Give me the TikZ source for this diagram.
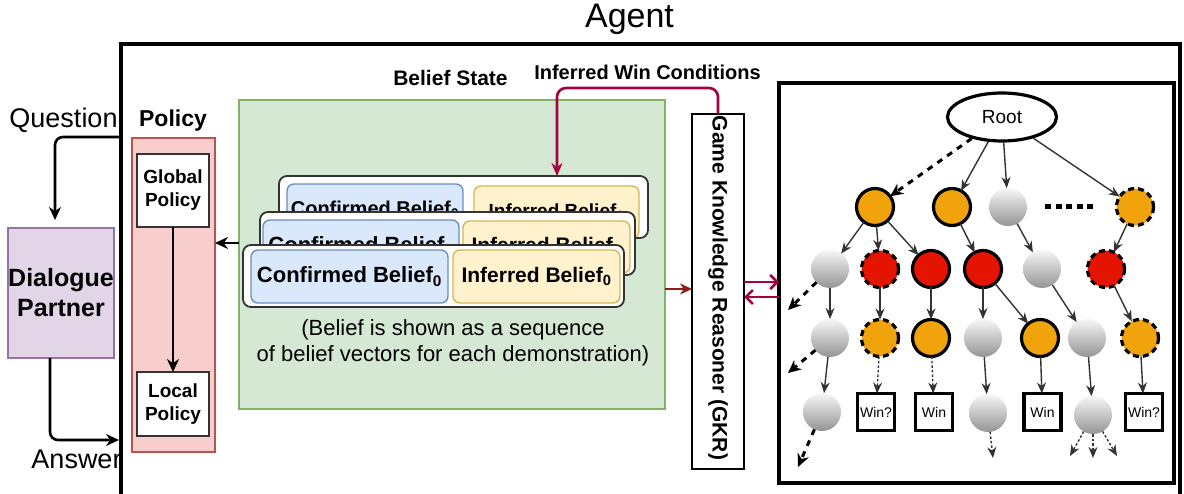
\documentclass[tikz,border=0pt]{standalone}
\usepackage{fontspec}
\setmainfont{Liberation Sans}
\usetikzlibrary{arrows.meta,shapes.geometric,calc}
\definecolor{purpF}{HTML}{E1D5E7}\definecolor{purpD}{HTML}{9673A6}
\definecolor{redF}{HTML}{F8CECC}\definecolor{redD}{HTML}{B85450}
\definecolor{grnF}{HTML}{D5E8D4}\definecolor{grnD}{HTML}{82B366}
\definecolor{bluF}{HTML}{DAE8FC}\definecolor{bluD}{HTML}{6C8EBF}
\definecolor{yelF}{HTML}{FFF2CC}\definecolor{yelD}{HTML}{D6B656}
\definecolor{orgF}{HTML}{F0A30A}\definecolor{rdF}{HTML}{E51400}
\definecolor{maroon}{HTML}{A50040}\definecolor{dkred}{HTML}{8E1B1B}
\tikzset{
  fnt/.style={font=\fontsize{#1}{#1}\selectfont},
  bfnt/.style={font=\fontsize{#1}{#1}\selectfont\bfseries},
  box/.style={draw, inner sep=0pt, outer sep=0pt},
  blackarrow/.style={draw=black, line width=2.6pt, -{Stealth[length=13pt,width=12pt]}},
  maroonarrow/.style={draw=maroon, line width=2.6pt, -{Stealth[length=13pt,width=11pt]}},
  maroonbarb/.style={draw=maroon, line width=2.6pt, -{Straight Barb[length=7pt,width=14pt,line width=2.6pt]}},
  card/.style={box, draw=black!80, line width=1.8pt, fill=white, rounded corners=8pt},
  bluebox/.style={box, draw=bluD, line width=1.4pt, fill=bluF, rounded corners=7pt},
  yelbox/.style={box, draw=yelD, line width=1.4pt, fill=yelF, rounded corners=7pt},
  gcirc/.style={circle, inner sep=0pt, outer sep=0pt, minimum size=38pt, draw=none, top color=black!3, bottom color=black!42},
  ocirc/.style={circle, inner sep=0pt, outer sep=0pt, minimum size=37pt, draw=black, line width=3.2pt, fill=orgF},
  rcirc/.style={ocirc, fill=rdF},
  dashborder/.style={dash pattern=on 6pt off 4pt},
  edge/.style={draw=black!80, line width=1.4pt, -{Stealth[length=11pt,width=9pt]}},
  dotedge/.style={edge, dash pattern=on 2.5pt off 2pt},
  dashedge/.style={draw=black, line width=3pt, dash pattern=on 6pt off 6pt, -{Stealth[length=13pt,width=12pt]}},
  winbox/.style={box, line width=3.2pt, minimum size=37pt, fnt=14},
}
\begin{document}
\begin{tikzpicture}[x=1pt,y=-1pt]
\useasboundingbox (0,0) rectangle (1184,494);
% agent
\node[anchor=base, fnt=34] (title) at (629.5,28) {Agent};
\node[box, line width=3.2pt, minimum width=1059pt, minimum height=476pt] (agent) at (650.5,282) {};
% dialogue partner
\node[box, draw=purpD, fill=purpF, line width=1.2pt, minimum width=106pt, minimum height=130pt, align=center, font=\fontsize{25}{30}\selectfont\bfseries] (dp) at (61,293) {Dialogue\\Partner};
\node[anchor=base, fnt=27] (qlbl) at (63.5,128) {Question};
\node[anchor=base, fnt=27] (albl) at (76.5,468) {Answer};
\coordinate (qstart) at (121,137);
\coordinate (aend) at (121,440);
\draw[blackarrow, rounded corners=8pt, shorten >=8pt] (qstart) -| ([xshift=-6pt]dp.north);
\draw[blackarrow, rounded corners=8pt, shorten >=2pt] ([xshift=-11pt]dp.south) |- (aend);
% policy
\node[anchor=base, bfnt=23] (plbl) at (173,127) {Policy};
\node[box, draw=redD, fill=redF, line width=1.2pt, minimum width=83pt, minimum height=314pt] (policy) at (173.5,295) {};
\node[box, draw=black!80, fill=white, line width=1.3pt, minimum width=72pt, minimum height=73pt, align=center, font=\fontsize{19}{23}\selectfont\bfseries] (gp) at (173,190.5) {Global\\Policy};
\node[box, draw=black!80, fill=white, line width=1.3pt, minimum width=72pt, minimum height=64pt, align=center, font=\fontsize{19}{23}\selectfont\bfseries] (lp) at (173,404) {Local\\Policy};
\draw[blackarrow] (gp) -- (lp);
% belief state
\node[box, draw=grnD, fill=grnF, line width=1.2pt, minimum width=426pt, minimum height=309pt] (green) at (452,254.5) {};
\node[anchor=base, bfnt=21] (bslbl) at (450.5,86) {Belief State};
\node[anchor=base, bfnt=20] (iwlbl) at (647.5,80) {Inferred Win Conditions};
\coordinate (y4) at (0,243);
\draw[blackarrow] (green.west |- y4) -- (policy.east |- y4);
% cards
\node[card, minimum width=369pt, minimum height=62pt] (back) at (463.5,207) {};
\node[bluebox, minimum width=176pt, minimum height=52pt, bfnt=20] (backb) at (375,210) {Confirmed Belief\textsubscript{0}};
\node[yelbox, minimum width=165pt, minimum height=52pt, bfnt=19] (backy) at (556.5,212) {Inferred Belief\textsubscript{0}};
\node[card, minimum width=375pt, minimum height=63pt] (mid) at (447.5,243.5) {};
\node[bluebox, minimum width=196pt, minimum height=52pt, bfnt=22] (midb) at (361,246) {Confirmed Belief\textsubscript{0}};
\node[yelbox, minimum width=167pt, minimum height=52pt, bfnt=21] (midy) at (546.5,247) {Inferred Belief\textsubscript{0}};
\node[card, minimum width=381pt, minimum height=62pt] (front) at (433.5,276) {};
\node[bluebox, minimum width=197pt, minimum height=53pt, bfnt=22] (frontb) at (349.5,276.5) {Confirmed Belief\textsubscript{0}};
\node[yelbox, minimum width=167pt, minimum height=53pt, bfnt=21] (fronty) at (536.5,276.5) {Inferred Belief\textsubscript{0}};
\node[align=center, font=\fontsize{22}{26}\selectfont] (cap) at (453,343) {(Belief is shown as a sequence\\of belief vectors for each demonstration)};
% GKR
\node[box, line width=1.8pt, fill=white, minimum width=52pt, minimum height=355pt] (gkr) at (718,291.5) {};
\node[rotate=-90, bfnt=21] (gkrtxt) at (718,288) {Game Knowledge Reasoner (GKR)};
\draw[maroonarrow, rounded corners=9pt] (gkr.north) -- ++(0,-26) -| ($(back.north)+(93.5,0)$);
\coordinate (y3) at (0,289);
\draw[draw=dkred, line width=2.6pt, -{Stealth[length=12pt,width=11pt]}] (green.east |- y3) -- (gkr.west |- y3);
% tree box
\node[box, line width=3.5pt, minimum width=395pt, minimum height=400pt] (tree) at (976.5,283) {};
\coordinate (y1) at (0,282);
\coordinate (y2) at (0,297);
\draw[maroonbarb] (gkr.east |- y1) -- (tree.west |- y1);
\draw[maroonbarb] (tree.west |- y2) -- (gkr.east |- y2);
% tree nodes
\node[ellipse, draw, line width=3.2pt, minimum width=109pt, minimum height=48pt, inner sep=0pt, fnt=19] (root) at (1002,117) {Root};
\node[ocirc] (a) at (875,207) {};
\node[ocirc] (b) at (952,207) {};
\node[gcirc] (c) at (1008,207) {};
\node[ocirc, dashborder] (d) at (1135,207) {};
\draw[line width=5pt, dash pattern=on 6pt off 4.5pt] (1045,207) -- (1093,207);
\node[gcirc] (e) at (830,269) {};
\node[rcirc, dashborder] (f) at (880,269) {};
\node[rcirc] (g) at (931,269) {};
\node[rcirc] (h) at (983,269) {};
\node[gcirc] (i) at (1042,269) {};
\node[rcirc, dashborder] (j) at (1106,269) {};
\node[gcirc] (k) at (830,338) {};
\node[ocirc, dashborder] (l) at (880,338) {};
\node[ocirc] (m) at (931,338) {};
\node[gcirc] (n) at (983,338) {};
\node[ocirc] (o) at (1040,338) {};
\node[gcirc] (p) at (1087,338) {};
\node[ocirc, dashborder] (q) at (1140,338) {};
\node[gcirc] (r) at (822,412) {};
\node[winbox] (s) at (876,412) {Win?};
\node[winbox] (t) at (934,412) {Win};
\node[gcirc] (u) at (988,413) {};
\node[winbox] (v) at (1042.5,412) {Win};
\node[gcirc] (w) at (1093,415) {};
\node[winbox] (x) at (1144,412) {Win?};
\coordinate (fe) at (788,310);
\coordinate (fk) at (788,373);
\coordinate (fr) at (798,467);
\coordinate (fu) at (993,458);
\coordinate (fw1) at (1070,456);
\coordinate (fw2) at (1093,458);
\coordinate (fw3) at (1117,456);
% tree edges
\draw[dashedge] (root) -- (a);
\draw[edge] (root) -- (b);
\draw[edge] (root) -- (c);
\draw[edge] (root) -- (d);
\draw[edge] (a) -- (e);
\draw[edge] (a) -- (f);
\draw[edge] (a) -- (g);
\draw[edge] (b) -- (h);
\draw[edge] (c) -- (i);
\draw[edge] (d) -- (j);
\draw[edge] (e) -- (k);
\draw[dashedge] (e) -- (fe);
\draw[edge] (f) -- (l);
\draw[edge] (g) -- (m);
\draw[edge] (h) -- (n);
\draw[edge] (h) -- (o);
\draw[edge] (i) -- (p);
\draw[edge] (j) -- (q);
\draw[edge] (k) -- (r);
\draw[dashedge] (k) -- (fk);
\draw[dotedge] (l) -- (s);
\draw[dotedge] (m) -- (t);
\draw[edge] (n) -- (u);
\draw[edge] (o) -- (v);
\draw[edge] (p) -- (w);
\draw[edge] (q) -- (x);
\draw[dashedge] (r) -- (fr);
\draw[dotedge] (u) -- (fu);
\draw[dotedge] (w) -- (fw1);
\draw[dotedge] (w) -- (fw2);
\draw[dotedge] (w) -- (fw3);
\end{tikzpicture}
\end{document}
